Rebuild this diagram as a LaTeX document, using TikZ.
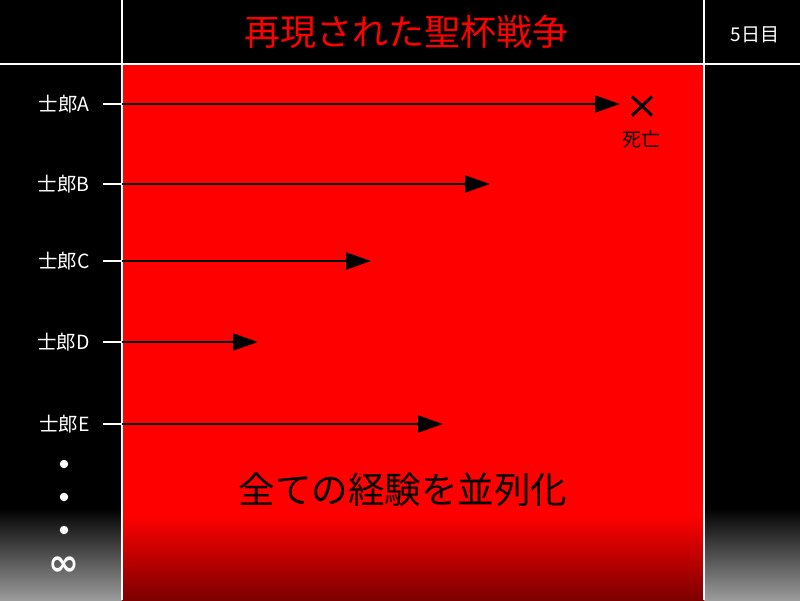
\documentclass[tikz,border=0pt]{standalone}
\usepackage{fontspec}
\setmainfont{Noto Sans CJK JP}
\newfontfamily\symfont{DejaVu Sans}
\usetikzlibrary{arrows.meta,shapes.misc}
\definecolor{darkred}{RGB}{125,0,0}
\definecolor{bgray}{RGB}{155,155,155}
\tikzset{
  divider/.style={white,line width=2pt},
  namelabel/.style={text=white,font=\fontsize{19.5}{19.5}\selectfont,anchor=east,inner sep=0pt},
  tick/.style={white,line width=2pt},
  timeline/.style={black,line width=2pt,-{Triangle[length=25pt,width=17pt]}},
  dotmark/.style={circle,fill=white,inner sep=0pt,minimum size=8.5pt},
}
\begin{document}
\begin{tikzpicture}[x=1pt,y=-1pt]
\useasboundingbox (0,0) rectangle (800,600);
% background
\fill[black] (0,0) rectangle (800,600);
\shade[top color=black,bottom color=bgray] (0,508) rectangle (800,600);
% red panel
\fill[red] (122,64) rectangle (704,600);
\shade[top color=red,bottom color=darkred] (122,515) rectangle (704,600);
% dividers
\draw[divider] (0,64) -- (800,64);
\draw[divider] (122,0) -- (122,600);
\draw[divider] (704,0) -- (704,600);
% title
\node[text=red,font=\fontsize{36}{36}\selectfont,inner sep=0pt] (title) at (406,32) {再現された聖杯戦争};
\node[text=white,font=\fontsize{19}{19}\selectfont,inner sep=0pt] (day) at (755,35) {5日目};
% rows
\foreach \n/\yy/\tip in {A/104/620,B/184/490,C/261/371,D/342/258,E/424/443}{
  \node[namelabel] (l\n) at (90,\yy) {士郎\n};
  \coordinate (t\n) at (103,\yy);
  \coordinate (s\n) at (122,\yy);
  \coordinate (e\n) at (\tip,\yy);
  \draw[tick] (t\n) -- (s\n);
  \draw[timeline] (s\n) -- (e\n);
}
% death mark
\node[cross out,draw=black,line width=3pt,minimum width=17pt,minimum height=16pt,inner sep=0pt] (dead) at (642,106) {};
\node[text=black,font=\fontsize{19}{19}\selectfont,inner sep=0pt] (deadlbl) at (641,139) {死亡};
% dots and infinity
\node[dotmark] (d1) at (64,464) {};
\node[dotmark] (d2) at (64,497) {};
\node[dotmark] (d3) at (64,530) {};
\node[text=white,font=\symfont\bfseries\fontsize{37}{37}\selectfont,inner sep=0pt] (inf) at (64,566) {∞};
% bottom text
\node[text=black,font=\fontsize{36.5}{36.5}\selectfont,inner sep=0pt] (all) at (403,490) {全ての経験を並列化};
\end{tikzpicture}
\end{document}
